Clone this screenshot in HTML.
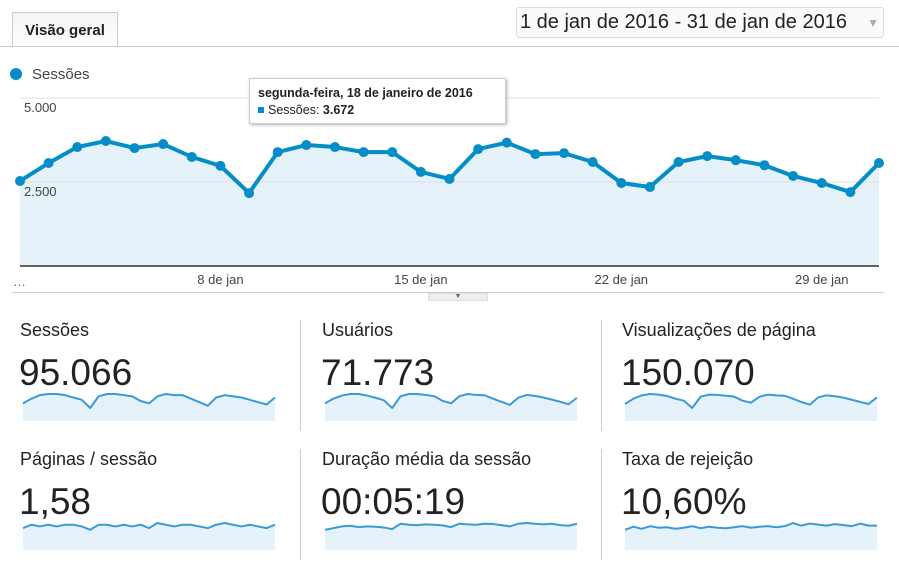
<!DOCTYPE html>
<html><head><meta charset="utf-8">
<style>
body{margin:0;width:899px;height:566px;background:#fff;font-family:"Liberation Sans",Arial,sans-serif;overflow:hidden;position:relative;color:#222}
.abs{position:absolute}
.tab{left:12px;top:12px;width:106px;height:34px;border:1px solid #ccc;border-bottom:none;background:linear-gradient(#f4f4f4,#fff);box-sizing:border-box;font-weight:bold;font-size:15px;line-height:36px;text-align:center}
.date{left:516px;top:7px;width:368px;height:31px;border:1px solid #ddd;border-radius:3px;background:#fafafa;box-sizing:border-box;font-size:20px;line-height:29px;padding-left:3px;white-space:nowrap}
.mt{font-size:18px;color:#222}
.mv{font-size:37px;color:#222}
.div{width:1px;background:#ccc}
</style></head><body>
<div class="abs" style="left:0;top:46px;width:899px;height:1px;background:#ccc"></div>
<div class="abs tab">Visão geral</div>
<div class="abs date">1 de jan de 2016 - 31 de jan de 2016 <span style="color:#aaa;font-size:12px;position:absolute;right:4px;top:1px">▼</span></div>
<div class="abs" style="left:10px;top:66px;font-size:15px;color:#444"><span style="display:inline-block;width:12px;height:12px;border-radius:50%;background:#058dc7;vertical-align:-1px;margin-right:10px"></span>Sessões</div>
<svg class="abs" style="left:0;top:0" width="899" height="300" id="chart"></svg>
<div class="abs" style="left:249px;top:78px;width:257px;height:46px;background:#fff;border:1px solid #ccc;box-shadow:1px 1px 3px rgba(0,0,0,.3);box-sizing:border-box;padding:6px 8px;font-size:12.5px;line-height:17px">
<b>segunda-feira, 18 de janeiro de 2016</b><br><span style="display:inline-block;width:6px;height:6px;background:#058dc7;margin-right:4px;vertical-align:1px"></span>Sessões: <b>3.672</b></div>
<div class="abs" style="left:12px;top:292px;width:872px;height:1px;background:#ccc"></div>
<div class="abs" style="left:428px;top:293px;width:60px;height:8px;background:#eee;border:1px solid #ddd;box-sizing:border-box;font-size:7px;text-align:center;line-height:6px;color:#666">▼</div>
<div id="metrics"></div>
<script>
const days=[];for(let i=1;i<=31;i++)days.push(i);
const sessions=[2530,3065,3540,3720,3510,3630,3245,2980,2170,3390,3600,3540,3390,3390,2800,2590,3480,3672,3330,3360,3095,2470,2350,3095,3270,3150,3000,2680,2470,2200,3065];
const yTicks=[2500,5000];
const yTickLabels=["2.500","5.000"];
const xTickDays=[8,15,22,29];
const xTickLabels=["8 de jan","15 de jan","22 de jan","29 de jan"];
const metricNames=["Sessões","Usuários","Visualizações de página","Páginas / sessão","Duração média da sessão","Taxa de rejeição"];
const metricValues=["95.066","71.773","150.070","1,58","00:05:19","10,60%"];
const sparkSessions=[2900,3100,3250,3300,3300,3250,3150,3050,2700,3200,3300,3300,3250,3200,3000,2900,3200,3300,3250,3250,3100,2950,2800,3150,3250,3200,3150,3050,2950,2850,3150];
const sparkUsers=[2150,2300,2400,2450,2450,2400,2330,2250,2000,2380,2450,2450,2420,2380,2230,2150,2380,2450,2420,2410,2300,2200,2100,2330,2420,2390,2340,2270,2200,2120,2330];
const sparkViews=[4300,4700,4950,5050,5000,4900,4700,4550,4000,4850,5000,4980,4920,4850,4550,4400,4850,5000,4950,4920,4700,4450,4250,4800,4950,4880,4780,4620,4450,4300,4800];
const sparkPages=[1.58,1.6,1.59,1.6,1.59,1.6,1.6,1.59,1.57,1.6,1.6,1.59,1.6,1.59,1.6,1.58,1.61,1.6,1.59,1.6,1.6,1.59,1.58,1.6,1.61,1.6,1.59,1.6,1.59,1.58,1.6];
const sparkDur=[300,305,310,312,308,310,309,307,302,318,315,314,316,315,313,308,318,316,315,318,317,314,310,318,320,318,316,318,314,312,318];
const sparkBounce=[10.2,10.8,10.4,10.9,10.6,10.7,10.4,10.6,10.9,10.5,10.8,10.6,10.5,10.7,10.9,10.6,10.8,10.9,10.7,10.9,11.5,11.0,11.4,11.2,11.0,11.3,11.1,10.9,11.4,11.0,11.0];
const NS="http://www.w3.org/2000/svg";
const svg=document.getElementById('chart');
function el(t,a,p){const e=document.createElementNS(NS,t);for(const k in a)e.setAttribute(k,a[k]);(p||svg).appendChild(e);return e;}
const x0=20,x1=879,yTop=98,yBase=266;
const xs=d=>x0+(d-1)*(x1-x0)/30;
const ys=v=>yBase-v/5000*(yBase-yTop);
let pts=sessions.map((v,i)=>xs(days[i])+','+ys(v));
const area=el('polygon',{points:xs(1)+','+yBase+' '+pts.join(' ')+' '+xs(31)+','+yBase,fill:'#e5f2fa'});

yTicks.forEach((t,i)=>{
 const g=el('line',{x1:x0,x2:x1,y1:ys(t),y2:ys(t),stroke:'#e0e0e0'});
 
 const tx=el('text',{x:24,y:ys(t)+14,'font-size':13,fill:'#444','font-family':'Liberation Sans'});
 tx.textContent=yTickLabels[i];
 
});
const ax=el('line',{x1:x0,x2:x1,y1:yBase,y2:yBase,stroke:'#333','stroke-width':1.5});

const ln=el('polyline',{points:pts.join(' '),fill:'none',stroke:'#058dc7','stroke-width':4,'stroke-linejoin':'round'});

sessions.forEach((v,i)=>{const c=el('circle',{cx:xs(days[i]),cy:ys(v),r:5,fill:'#058dc7'});
 });
const dots=el('text',{x:13,y:286,'font-size':13,fill:'#666'});dots.textContent='…';

xTickDays.forEach((d,i)=>{const t=el('text',{x:xs(d),y:284,'font-size':13,fill:'#444','text-anchor':'middle','font-family':'Liberation Sans'});
 t.textContent=xTickLabels[i];});
const sparks=[sparkSessions,sparkUsers,sparkViews,sparkPages,sparkDur,sparkBounce];
const colX=[20,322,622],rowY=[320,449];
const m=document.getElementById('metrics');
[300,601].forEach(x=>rowY.forEach(y=>{const d=document.createElement('div');d.className='abs div';d.style.left=x+'px';d.style.top=y+'px';d.style.height='111px';
 m.appendChild(d);}));
metricNames.forEach((n,i)=>{
 const cx=colX[i%3],ry=rowY[Math.floor(i/3)];
 const t=document.createElement('div');t.className='abs mt';t.style.left=cx+'px';t.style.top=ry+'px';t.textContent=n;
 m.appendChild(t);
 const v=document.createElement('div');v.className='abs mv';v.style.left=(cx-1)+'px';v.style.top=(ry+32)+'px';v.textContent=metricValues[i];
 m.appendChild(v);
 const s=document.createElementNS(NS,'svg');s.setAttribute('width',256);s.setAttribute('height',34);
 s.setAttribute('class','abs');s.style.left=(cx+2)+'px';s.style.top=(ry+68)+'px';
 m.appendChild(s);
 const data=sparks[i];let mx=Math.max(...data),mn=Math.min(...data);
 const flat=i>=3;
 const lo=flat?mn-(mx-mn)*4:mn, hi=flat?mx+(mx-mn)*0.3:mx;
 const sx=k=>1+k*252/30, sy=val=>(flat?4:6)+(hi-val)/(hi-lo)*(flat?36:14);
 const p=data.map((val,k)=>sx(k)+','+sy(val)).join(' ');
 el('polygon',{points:'1,33 '+p+' 253,33',fill:'#e5f2fa'},s);
 el('polyline',{points:p,fill:'none',stroke:'#3a9ad8','stroke-width':2,'stroke-linejoin':'round'},s);
});
</script>
</body></html>
